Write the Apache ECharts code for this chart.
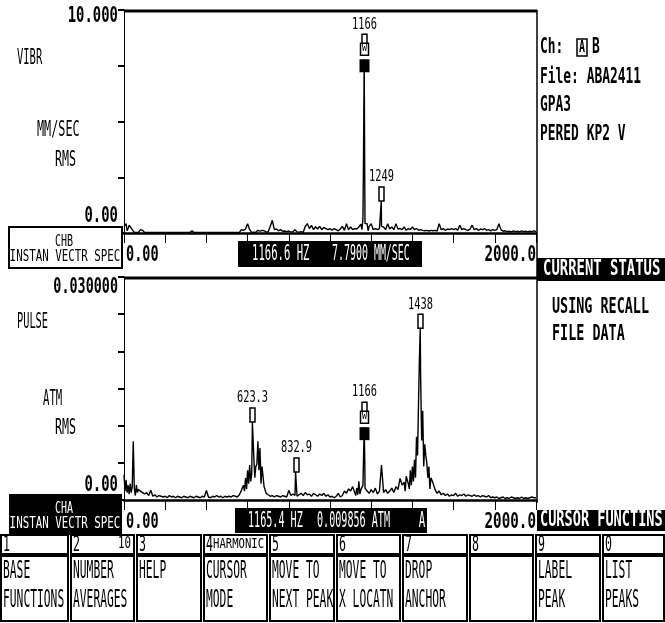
<!DOCTYPE html>
<html><head><meta charset="utf-8">
<script src="https://cdn.jsdelivr.net/npm/echarts@6/dist/echarts.min.js"></script>
<style>html,body{margin:0;padding:0;background:#fff}#c{width:665px;height:623px}</style>
</head><body><div id="c"></div>
<script>
// ---------- DATA ----------
const freqStep = 10; // Hz between spectrum lines (0..2000)
const topAmp = [
 0.30,0.42,0.20,0.42,0.15,0.03,0.02,0.03,0.15,0.12,
 0.02,0.03,0.02,0.02,0.03,0.02,0.02,0.03,0.02,0.02,
 0.02,0.03,0.02,0.02,0.02,0.03,0.02,0.02,0.03,0.02,
 0.02,0.02,0.03,0.10,0.02,0.02,0.03,0.02,0.02,0.03,
 0.02,0.02,0.03,0.02,0.02,0.03,0.02,0.02,0.03,0.02,
 0.02,0.03,0.02,0.02,0.03,0.02,0.03,0.15,0.12,0.18,
 0.42,0.15,0.03,0.04,0.03,0.12,0.08,0.12,0.10,0.04,
 0.06,0.30,0.57,0.15,0.18,0.10,0.15,0.08,0.09,0.06,
 0.09,0.04,0.06,0.15,0.05,0.04,0.06,0.03,0.30,0.42,
 0.20,0.34,0.15,0.28,0.18,0.30,0.15,0.25,0.20,0.15,
 0.20,0.12,0.20,0.15,0.10,0.18,0.30,0.12,0.42,0.15,
 0.27,0.15,0.20,0.18,0.27,0.40,0.64,0.42,0.42,0.30,
 0.42,0.15,0.20,0.15,0.20,0.30,0.27,0.15,0.42,0.18,
 0.27,0.15,0.42,0.18,0.20,0.15,0.27,0.12,0.20,0.15,
 0.27,0.15,0.20,0.12,0.15,0.12,0.10,0.12,0.09,0.12,
 0.10,0.12,0.09,0.42,0.15,0.20,0.12,0.18,0.15,0.20,
 0.15,0.20,0.12,0.35,0.15,0.20,0.15,0.12,0.18,0.35,
 0.15,0.20,0.12,0.18,0.15,0.20,0.12,0.15,0.10,0.15,
 0.12,0.15,0.42,0.15,0.08,0.10,0.06,0.08,0.05,0.10,
 0.06,0.08,0.05,0.10,0.06,0.08,0.05,0.08,0.06,0.10,
 0.06];
const topPeakF = [15, 25, 1155, 1163, 1166, 1169, 1249, 1185, 1195];
const topPeakV = [0.10, 0.35, 0.15, 3.8, 7.79, 1.9, 1.43, 0.10, 0.38];

const botAmp = [
 0.0034,0.0027,0.0020,0.0022,0.0018,0.0016,0.0020,0.0014,0.0012,0.0010,
 0.0008,0.0010,0.0006,0.0013,0.0005,0.0007,0.0004,0.0006,0.0005,0.0004,
 0.0005,0.0003,0.0006,0.0004,0.0005,0.0003,0.0005,0.0004,0.0003,0.0005,
 0.0004,0.0003,0.0005,0.0004,0.0003,0.0005,0.0004,0.0003,0.0005,0.0004,
 0.0013,0.0004,0.0003,0.0005,0.0004,0.0006,0.0004,0.0005,0.0003,0.0005,
 0.0004,0.0005,0.0004,0.0006,0.0005,0.0004,0.0007,0.0013,0.0020,0.0030,
 0.0040,0.0047,0.0035,0.0059,0.0045,0.0079,0.0070,0.0045,0.0018,0.0009,
 0.0007,0.0005,0.0006,0.0004,0.0006,0.0005,0.0004,0.0006,0.0005,0.0004,
 0.0013,0.0006,0.0008,0.0006,0.0005,0.0007,0.0009,0.0006,0.0010,0.0007,
 0.0008,0.0005,0.0009,0.0007,0.0005,0.0008,0.0006,0.0009,0.0005,0.0007,
 0.0004,0.0005,0.0003,0.0005,0.0009,0.0004,0.0006,0.0012,0.0009,0.0015,
 0.0012,0.0018,0.0010,0.0016,0.0025,0.0014,0.0020,0.0016,0.0012,0.0009,
 0.0014,0.0010,0.0016,0.0008,0.0012,0.0047,0.0010,0.0014,0.0009,0.0012,
 0.0016,0.0010,0.0018,0.0014,0.0029,0.0020,0.0024,0.0032,0.0022,0.0040,
 0.0045,0.0054,0.0085,0.0135,0.0165,0.0120,0.0075,0.0050,0.0045,0.0030,
 0.0023,0.0014,0.0009,0.0012,0.0007,0.0009,0.0006,0.0008,0.0005,0.0007,
 0.0006,0.0009,0.0005,0.0007,0.0006,0.0008,0.0005,0.0007,0.0006,0.0005,
 0.0007,0.0005,0.0006,0.0004,0.0006,0.0005,0.0004,0.0006,0.0003,0.0004,
 0.0003,0.0004,0.0002,0.0003,0.0004,0.0002,0.0003,0.0002,0.0004,0.0003,
 0.0002,0.0003,0.0002,0.0004,0.0002,0.0003,0.0002,0.0003,0.0004,0.0003,
 0.0003];
const botPeakF = [5, 15, 25, 35, 45, 55, 65, 585, 595, 605, 615, 623.3, 635, 645, 655, 665,
                  832.9, 1125, 1135, 1145, 1163, 1166, 1169, 1365, 1385, 1395,
                  1405, 1415, 1425, 1434, 1438, 1445, 1455, 1465, 1475, 1485];
const botPeakV = [0.0012, 0.0010, 0.0008, 0.0010, 0.0079, 0.0006, 0.0010, 0.0012, 0.0015, 0.0022, 0.0025, 0.0105, 0.0030, 0.0048, 0.0040, 0.0022,
                  0.00377, 0.0006, 0.0007, 0.0008, 0.0060, 0.0098, 0.0050, 0.0012, 0.0015, 0.0020,
                  0.0025, 0.0030, 0.0060, 0.0190, 0.0231, 0.0080, 0.0045, 0.0060, 0.0030, 0.0015];

const topMarkF = [1166, 1249];
const topMarkV = [7.79, 1.43];
const topMarkText = ['1166', '1249'];
const topMarkCursor = [true, false];

const botMarkF = [623.3, 832.9, 1166, 1438];
const botMarkV = [0.0105, 0.00377, 0.0098, 0.0231];
const botMarkText = ['623.3', '832.9', '1166', '1438'];
const botMarkCursor = [false, false, true, false];

const xTickLabels = ['0.00', '2000.0'];
const topYLabels = ['0.00', '10.000'];
const botYLabels = ['0.00', '0.030000'];
const topReadout = ['1166.6 HZ', '7.7900 MM/SEC'];
const botReadout = ['1165.4 HZ', '0.009856 ATM', 'A'];
const topUnits = ['VIBR', 'MM/SEC', 'RMS'];
const botUnits = ['PULSE', 'ATM', 'RMS'];
const topChan = ['CHB', 'INSTAN VECTR SPEC'];
const botChan = ['CHA', 'INSTAN VECTR SPEC'];
const infoLines = ['File: ABA2411', 'GPA3', 'PERED KP2 V'];
const statusLines = ['USING RECALL', 'FILE DATA'];
const fnNums = ['1','2','3','4','5','6','7','8','9','0'];
const fnSub = ['', '10', '', 'HARMONIC', '', '', '', '', '', ''];
const fnLine1 = ['BASE','NUMBER','HELP','CURSOR','MOVE TO','MOVE TO','DROP','','LABEL','LIST'];
const fnLine2 = ['FUNCTIONS','AVERAGES','','MODE','NEXT PEAK','X LOCATN','ANCHOR','','PEAK','PEAKS'];

// ---------- HELPERS ----------
const FONT = '"DejaVu Sans Mono"';
function T(x, y, s, cw, ch, o) {
  o = o || {};
  const size = ch / 0.729;
  const sx = cw / (0.602 * size);
  return {
    type: 'text', x: x, y: y, scaleX: sx, z: o.z || 50, silent: true,
    style: {
      text: s, fill: o.fill || '#000',
      font: (o.bold ? 'bold ' : '') + size.toFixed(1) + 'px ' + FONT,
      textAlign: o.align || 'left', align: o.align || 'left',
      textVerticalAlign: 'middle', verticalAlign: 'middle'
    }
  };
}
function R(x0, y0, x1, y1, fill, stroke, lw) {
  return { type: 'rect', z: 40, silent: true, shape: { x: x0, y: y0, width: x1 - x0, height: y1 - y0 },
    style: { fill: fill || 'none', stroke: stroke || null, lineWidth: lw || 0 } };
}
function L(x1, y1, x2, y2, lw) {
  return { type: 'line', z: 45, silent: true, shape: { x1, y1, x2, y2 }, style: { stroke: '#000', lineWidth: lw || 1 } };
}
function merge(amp, pf, pv) {
  const pts = amp.map((v, i) => [i * freqStep, v]);
  pf.forEach((f, i) => pts.push([f, pv[i]]));
  pts.sort((a, b) => a[0] - b[0]);
  return pts;
}
function markerRender(texts, cursors) {
  return function (params, api) {
    const i = params.dataIndex;
    const p = api.coord([api.value(0), api.value(1)]);
    const x = Math.round(p[0]) + 0.5, y = p[1];
    const ch = [];
    let top;
    if (cursors[i]) {
      ch.push({ type: 'rect', shape: { x: x - 5, y: y, width: 10, height: 13 }, style: { fill: '#000' } });
      ch.push({ type: 'rect', shape: { x: x - 4, y: y - 16, width: 8, height: 12 }, style: { fill: '#fff', stroke: '#000', lineWidth: 1.5 } });
      ch.push(T(x, y - 10, 'W', 5, 6, { align: 'center' }));
      ch.push({ type: 'rect', shape: { x: x - 2.5, y: y - 25, width: 5, height: 9 }, style: { fill: '#fff', stroke: '#000', lineWidth: 1.5 } });
      top = y - 25;
    } else {
      ch.push({ type: 'rect', shape: { x: x - 2.5, y: y - 14, width: 5, height: 14 }, style: { fill: '#fff', stroke: '#000', lineWidth: 1.5 } });
      top = y - 14;
    }
    ch.push(T(x, top - 10, texts[i], 6.2, 12, { align: 'center' }));
    return { type: 'group', children: ch };
  };
}

// ---------- CHART ----------
const chart = echarts.init(document.getElementById('c'), null, { renderer: 'canvas' });
const G1 = { left: 124, top: 10, width: 412, height: 223 };
const G2 = { left: 124, top: 277, width: 412, height: 223 };
function xAx(gi) {
  return { gridIndex: gi, type: 'value', min: 0, max: 2000, interval: 200,
    axisLine: { show: true, lineStyle: { color: '#000', width: 2.5 } },
    axisTick: { show: true, length: 10, lineStyle: { color: '#000', width: 1 } },
    axisLabel: { show: false }, splitLine: { show: false } };
}
function yAx(gi, max, interval) {
  return { gridIndex: gi, type: 'value', min: 0, max: max, interval: interval,
    axisLine: { show: true, lineStyle: { color: '#000', width: 1 } },
    axisTick: { show: true, length: 6, lineStyle: { color: '#000', width: 2 } },
    axisLabel: { show: false }, splitLine: { show: false } };
}
const lineStyle = { color: '#000', width: 1.4 };
chart.setOption({
  animation: false,
  backgroundColor: '#fff',
  grid: [G1, G2],
  xAxis: [xAx(0), xAx(1)],
  yAxis: [yAx(0, 10, 2.5), yAx(1, 0.03, 0.005)],
  series: [
    { type: 'line', xAxisIndex: 0, yAxisIndex: 0, data: merge(topAmp, topPeakF, topPeakV), showSymbol: false, lineStyle, z: 2, silent: true },
    { type: 'line', xAxisIndex: 1, yAxisIndex: 1, data: merge(botAmp, botPeakF, botPeakV), showSymbol: false, lineStyle, z: 2, silent: true },
    { type: 'custom', xAxisIndex: 0, yAxisIndex: 0, z: 5, clip: false, silent: true,
      data: topMarkF.map((f, i) => [f, topMarkV[i]]), encode: { x: 0, y: 1 },
      renderItem: markerRender(topMarkText, topMarkCursor) },
    { type: 'custom', xAxisIndex: 1, yAxisIndex: 1, z: 5, clip: false, silent: true,
      data: botMarkF.map((f, i) => [f, botMarkV[i]]), encode: { x: 0, y: 1 },
      renderItem: markerRender(botMarkText, botMarkCursor) }
  ]
});

// positions from the axes
const px = (gi, v) => chart.convertToPixel({ xAxisIndex: gi }, v);
const py = (gi, v) => chart.convertToPixel({ yAxisIndex: gi }, v);
const g = [];
const t0 = py(0, 10), b0 = py(0, 0), t1 = py(1, 0.03), b1 = py(1, 0);
const xl = px(0, 0), xr = px(0, 2000);

// frame lines
g.push(L(xl, t0 + 1, xr + 1, t0 + 1, 3));
g.push(L(xl, t1 + 1, xr + 1, t1 + 1, 3));
g.push(L(xr + 1, t0, xr + 1, b1 + 3, 1.5));

// y tick labels
g.push(T(118, t0 + 6, topYLabels[1], 8.4, 16, { align: 'right', bold: true }));
g.push(T(118, b0 - 17, topYLabels[0], 8.4, 16, { align: 'right', bold: true }));
g.push(T(118, t1 + 10, botYLabels[1], 8.1, 16, { align: 'right', bold: true }));
g.push(T(118, b1 - 15, botYLabels[0], 8.4, 16, { align: 'right', bold: true }));
// x tick labels
[b0, b1].forEach((b) => {
  g.push(T(xl + 2, b + 22, xTickLabels[0], 8.2, 16, { bold: true }));
  g.push(T(xr, b + 22, xTickLabels[1], 8.6, 16, { align: 'right', bold: true }));
});
// unit labels
g.push(T(17, 59, topUnits[0], 6.3, 15));
g.push(T(37, 131, topUnits[1], 7.1, 15));
g.push(T(55, 161, topUnits[2], 7, 15));
g.push(T(17, 323, botUnits[0], 6.2, 15));
g.push(T(43, 400, botUnits[1], 6.4, 15));
g.push(T(55, 429, botUnits[2], 7, 15));
// channel boxes
g.push(R(9, b0 - 6, 122, b0 + 35, '#fff', '#000', 2));
g.push(T(64, b0 + 9, topChan[0], 6, 12, { align: 'center' }));
g.push(T(65, b0 + 24, topChan[1], 6.5, 12, { align: 'center' }));
g.push(R(9, b1 - 6, 122, b1 + 35, '#000'));
g.push(T(64, b1 + 9, botChan[0], 6, 12, { align: 'center', fill: '#fff' }));
g.push(T(65, b1 + 24, botChan[1], 6.5, 12, { align: 'center', fill: '#fff' }));
// cursor readouts
g.push(R(238, b0 + 8, 422, b0 + 34, '#000'));
g.push(T(252, b0 + 21, topReadout[0], 6.4, 16, { fill: '#fff' }));
g.push(T(332, b0 + 21, topReadout[1], 6.0, 16, { fill: '#fff' }));
g.push(R(235, b1 + 8, 427, b1 + 33, '#000'));
g.push(T(248, b1 + 21, botReadout[0], 6.1, 16, { fill: '#fff' }));
g.push(T(317, b1 + 21, botReadout[1], 6.1, 16, { fill: '#fff' }));
g.push(T(422, b1 + 21, botReadout[2], 6.5, 16, { fill: '#fff', align: 'center' }));
// right panel
g.push(T(540, 47, 'Ch:', 7.8, 16, { bold: true }));
g.push(R(577, 39, 587, 56, '#fff', '#000', 1.5));
g.push(T(582, 47.5, 'A', 6, 12, { align: 'center', bold: true }));
g.push(T(592, 47, 'B', 7.8, 16, { bold: true }));
infoLines.forEach((s, i) => g.push(T(540, [77, 105, 134][i], s, 7.8, 16, { bold: true })));
g.push(R(537, 258, 665, 281, '#000'));
g.push(T(543, 269.5, 'CURRENT STATUS', 8.4, 16, { fill: '#fff', bold: true }));
statusLines.forEach((s, i) => g.push(T(552, 307 + i * 27, s, 8.1, 16, { bold: true })));
g.push(R(537, 510, 665, 531, '#000'));
g.push(T(540, 520.5, 'CURSOR FUNCTINS', 8.2, 16, { fill: '#fff', bold: true }));
// function keys
fnNums.forEach((n, k) => {
  const x0 = k === 0 ? 1 : Math.round(66.5 * k + 4);
  const x1 = k === 9 ? 664 : Math.round(66.5 * (k + 1) + 1);
  g.push(R(x0, 535, x1, 554, '#fff', '#000', 2));
  g.push(T(x0 + 2, 545, n, 7, 16));
  if (fnSub[k] === '10') g.push(T(x1 - 3, 544, fnSub[k], 6.5, 12, { align: 'right' }));
  else if (fnSub[k]) g.push(T(x0 + 9, 544, fnSub[k], 6.4, 10));
  g.push(R(x0, 556, x1, 621, '#fff', '#000', 2));
  if (fnLine1[k]) g.push(T(x0 + 2, 572, fnLine1[k], 6.8, 18));
  if (fnLine2[k]) g.push(T(x0 + 2, 601, fnLine2[k], 6.8, 18));
});
chart.setOption({ graphic: { elements: g } });
</script>
</body></html>
